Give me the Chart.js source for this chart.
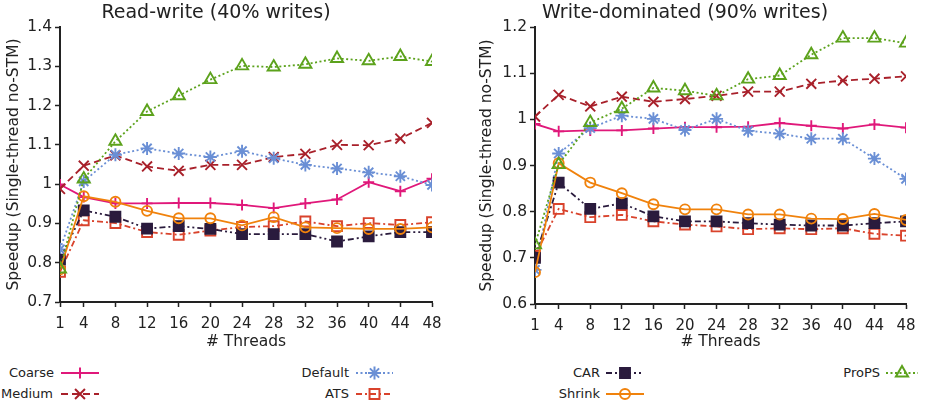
<!DOCTYPE html>
<html>
<head>
<meta charset="utf-8">
<script src="https://cdn.jsdelivr.net/npm/chart.js@4/dist/chart.umd.min.js"></script>
<style>
  html, body { margin: 0; padding: 0; background: #fff; }
  body { width: 928px; height: 408px; position: relative; overflow: hidden; font-family: "DejaVu Sans", sans-serif; }
  .cv { position: absolute; top: 0; }
  .lg-text { position: absolute; font-size: 13px; color: #222; text-align: right; width: 120px; line-height: 16px; white-space: nowrap; }
  .lg-sample { position: absolute; }
</style>
</head>
<body>
<canvas id="left" class="cv" style="left:0px;width:464px;height:352px" width="464" height="352"></canvas>
<canvas id="right" class="cv" style="left:464px;width:464px;height:352px" width="464" height="352"></canvas>
<div id="legend"></div>
<script>
// ---------------- data ----------------
const threads = [1, 4, 8, 12, 16, 20, 24, 28, 32, 36, 40, 44, 48];
const xTickLabels = [1, 4, 8, 12, 16, 20, 24, 28, 32, 36, 40, 44, 48];

const seriesNames = ["Coarse", "Medium", "Default", "ATS", "CAR", "Shrink", "ProPS"];

// Read-write (40% writes)
const rwCoarse  = [0.999, 0.967, 0.951, 0.951, 0.952, 0.952, 0.947, 0.939, 0.951, 0.961, 1.005, 0.982, 1.014];
const rwMedium  = [0.988, 1.047, 1.073, 1.045, 1.034, 1.049, 1.049, 1.069, 1.077, 1.100, 1.099, 1.116, 1.156];
const rwDefault = [0.834, 1.007, 1.075, 1.091, 1.078, 1.069, 1.084, 1.066, 1.049, 1.040, 1.030, 1.020, 0.998];
const rwATS     = [0.777, 0.908, 0.901, 0.878, 0.871, 0.882, 0.891, 0.893, 0.905, 0.893, 0.901, 0.896, 0.903];
const rwCAR     = [0.808, 0.933, 0.917, 0.887, 0.893, 0.886, 0.873, 0.873, 0.873, 0.854, 0.867, 0.878, 0.878];
const rwShrink  = [0.783, 0.969, 0.955, 0.932, 0.913, 0.913, 0.895, 0.916, 0.890, 0.888, 0.886, 0.886, 0.890];
const rwProPS   = [0.784, 1.013, 1.109, 1.185, 1.225, 1.266, 1.301, 1.298, 1.305, 1.320, 1.314, 1.325, 1.312];

// Write-dominated (90% writes)
const wdCoarse  = [0.990, 0.974, 0.976, 0.976, 0.980, 0.983, 0.983, 0.984, 0.992, 0.986, 0.980, 0.989, 0.982];
const wdMedium  = [1.006, 1.053, 1.028, 1.049, 1.038, 1.044, 1.051, 1.060, 1.060, 1.077, 1.084, 1.088, 1.093];
const wdDefault = [0.674, 0.926, 0.981, 1.008, 1.001, 0.977, 1.001, 0.975, 0.969, 0.958, 0.958, 0.915, 0.871];
const wdATS     = [0.705, 0.806, 0.788, 0.793, 0.779, 0.772, 0.768, 0.762, 0.764, 0.762, 0.764, 0.752, 0.748];
const wdCAR     = [0.700, 0.863, 0.806, 0.818, 0.790, 0.779, 0.779, 0.775, 0.772, 0.770, 0.770, 0.775, 0.779];
const wdShrink  = [0.669, 0.905, 0.863, 0.840, 0.816, 0.805, 0.805, 0.794, 0.794, 0.785, 0.784, 0.795, 0.782];
const wdProPS   = [0.728, 0.902, 0.993, 1.023, 1.068, 1.062, 1.051, 1.087, 1.095, 1.140, 1.176, 1.176, 1.165];

// ---------------- styles ----------------
const styles = {
  Coarse:  { color: "#e0187a", dash: [],               point: "cross",    radius: 5.5, fill: false },
  Medium:  { color: "#a8202a", dash: [7, 4],           point: "crossRot", radius: 7,   fill: false },
  Default: { color: "#6a8fd5", dash: [2, 2.5],         point: "star",     radius: 6.5, fill: false },
  ATS:     { color: "#d9432c", dash: [6, 3, 2, 3],     point: "rect",     radius: 7,   fill: false },
  CAR:     { color: "#2a1b3d", dash: [6, 3, 2, 3, 2, 3], point: "rect",   radius: 7,   fill: true  },
  Shrink:  { color: "#f0820c", dash: [],               point: "circle",   radius: 5,   fill: false },
  ProPS:   { color: "#5ca21c", dash: [2, 2.5],         point: "triangle", radius: 7,   fill: false }
};

function mkDatasets(valuesByName) {
  return seriesNames.map((name, i) => {
    const s = styles[name];
    return {
      label: name,
      data: threads.map((t, k) => ({ x: t, y: valuesByName[name][k] })),
      borderColor: s.color,
      backgroundColor: s.fill ? s.color : "rgba(0,0,0,0)",
      borderWidth: 1.8,
      borderDash: s.dash,
      pointStyle: s.point,
      pointRadius: s.radius,
      pointHoverRadius: s.radius,
      pointBorderWidth: 1.9,
      pointBorderColor: s.color,
      pointBackgroundColor: s.fill ? s.color : "rgba(0,0,0,0)",
      tension: 0,
      order: seriesNames.length - i
    };
  });
}

const textColor = "#222";
const FONT = "'DejaVu Sans', sans-serif";

function mkOptions(cfg) {
  return {
    responsive: false,
    animation: false,
    events: [],
    layout: { padding: { left: 0, right: cfg.padRight, top: 0, bottom: 0 } },
    plugins: {
      legend: { display: false },
      tooltip: { enabled: false },
      title: {
        display: true,
        text: cfg.title,
        color: textColor,
        font: { family: FONT, size: 19, weight: "normal" },
        padding: { top: 1.8, bottom: 2.4 }
      }
    },
    scales: {
      x: {
        type: "linear",
        min: 1, max: 48,
        afterBuildTicks: (scale) => { scale.ticks = xTickLabels.map(v => ({ value: v })); },
        afterFit: (scale) => { scale.height = cfg.xHeight; },
        ticks: {
          color: textColor, font: { family: FONT, size: 15 }, padding: 8,
          maxRotation: 0, autoSkip: false,
          callback: (v) => String(v)
        },
        grid: { display: true, drawOnChartArea: false, drawTicks: true, tickLength: 5, tickWidth: 1.5, tickColor: "#222", color: "#222" },
        border: { display: true, color: "#222", width: 2 },
        title: {
          display: true, text: "# Threads", color: textColor,
          font: { family: FONT, size: 15.5 }, padding: { top: 0, bottom: 1 }
        }
      },
      y: {
        type: "linear",
        min: cfg.ymin, max: cfg.ymax,
        afterFit: (scale) => { scale.width = cfg.yWidth; },
        ticks: {
          stepSize: 0.1,
          color: textColor, font: { family: FONT, size: 15.5 }, padding: 3,
          callback: (v) => String(Math.round(v * 10) / 10)
        },
        grid: { display: true, drawOnChartArea: false, drawTicks: true, tickLength: 5, tickWidth: 1.5, tickColor: "#222", color: "#222" },
        border: { display: true, color: "#222", width: 2 },
        title: {
          display: true, text: "Speedup (Single-thread no-STM)", color: textColor,
          font: { family: FONT, size: 15.5 }, padding: { top: cfg.yTitlePad, bottom: 0 }
        }
      }
    }
  };
}

new Chart(document.getElementById("left"), {
  type: "line",
  data: { datasets: mkDatasets({
    Coarse: rwCoarse, Medium: rwMedium, Default: rwDefault, ATS: rwATS,
    CAR: rwCAR, Shrink: rwShrink, ProPS: rwProPS }) },
  options: mkOptions({ title: "Read-write (40% writes)", ymin: 0.7, ymax: 1.4,
    padRight: 32, xHeight: 50, yWidth: 60, yTitlePad: 5 })
});

new Chart(document.getElementById("right"), {
  type: "line",
  data: { datasets: mkDatasets({
    Coarse: wdCoarse, Medium: wdMedium, Default: wdDefault, ATS: wdATS,
    CAR: wdCAR, Shrink: wdShrink, ProPS: wdProPS }) },
  options: mkOptions({ title: "Write-dominated (90% writes)", ymin: 0.6, ymax: 1.2,
    padRight: 22, xHeight: 48, yWidth: 71, yTitlePad: 14 })
});

// ---------------- legend ----------------
const legendLayout = {
  Coarse:  { textRight: 54,  x0: 61,  x1: 99,  y: 372.5 },
  Medium:  { textRight: 53,  x0: 61,  x1: 99,  y: 394 },
  Default: { textRight: 349, x0: 356, x1: 393, y: 372.5 },
  ATS:     { textRight: 349, x0: 356, x1: 393, y: 394 },
  CAR:     { textRight: 600, x0: 606, x1: 644, y: 372.5 },
  Shrink:  { textRight: 600, x0: 606, x1: 644, y: 394 },
  ProPS:   { textRight: 880, x0: 886, x1: 918, y: 372.5 }
};
const legendDiv = document.getElementById("legend");
seriesNames.forEach((name) => {
  const L = legendLayout[name], s = styles[name];
  const t = document.createElement("div");
  t.className = "lg-text";
  t.textContent = name;
  t.style.left = (L.textRight - 120) + "px";
  t.style.top = (L.y - 8) + "px";
  legendDiv.appendChild(t);

  const w = L.x1 - L.x0 + 4, h = 20;
  const c = document.createElement("canvas");
  c.className = "lg-sample";
  c.width = w; c.height = h;
  c.style.left = (L.x0 - 2) + "px";
  c.style.top = (L.y - h / 2) + "px";
  legendDiv.appendChild(c);
  const ctx = c.getContext("2d");
  ctx.strokeStyle = s.color;
  ctx.lineWidth = 2;
  ctx.setLineDash(s.dash);
  ctx.beginPath();
  ctx.moveTo(2, h / 2);
  ctx.lineTo(w - 2, h / 2);
  ctx.stroke();
  ctx.setLineDash([]);
  ctx.fillStyle = s.fill ? s.color : "rgba(0,0,0,0)";
  ctx.lineWidth = 2;
  Chart.helpers.drawPoint(ctx, { pointStyle: s.point, radius: s.radius, rotation: 0, borderWidth: 2 }, w / 2, h / 2);
});
</script>
</body>
</html>
